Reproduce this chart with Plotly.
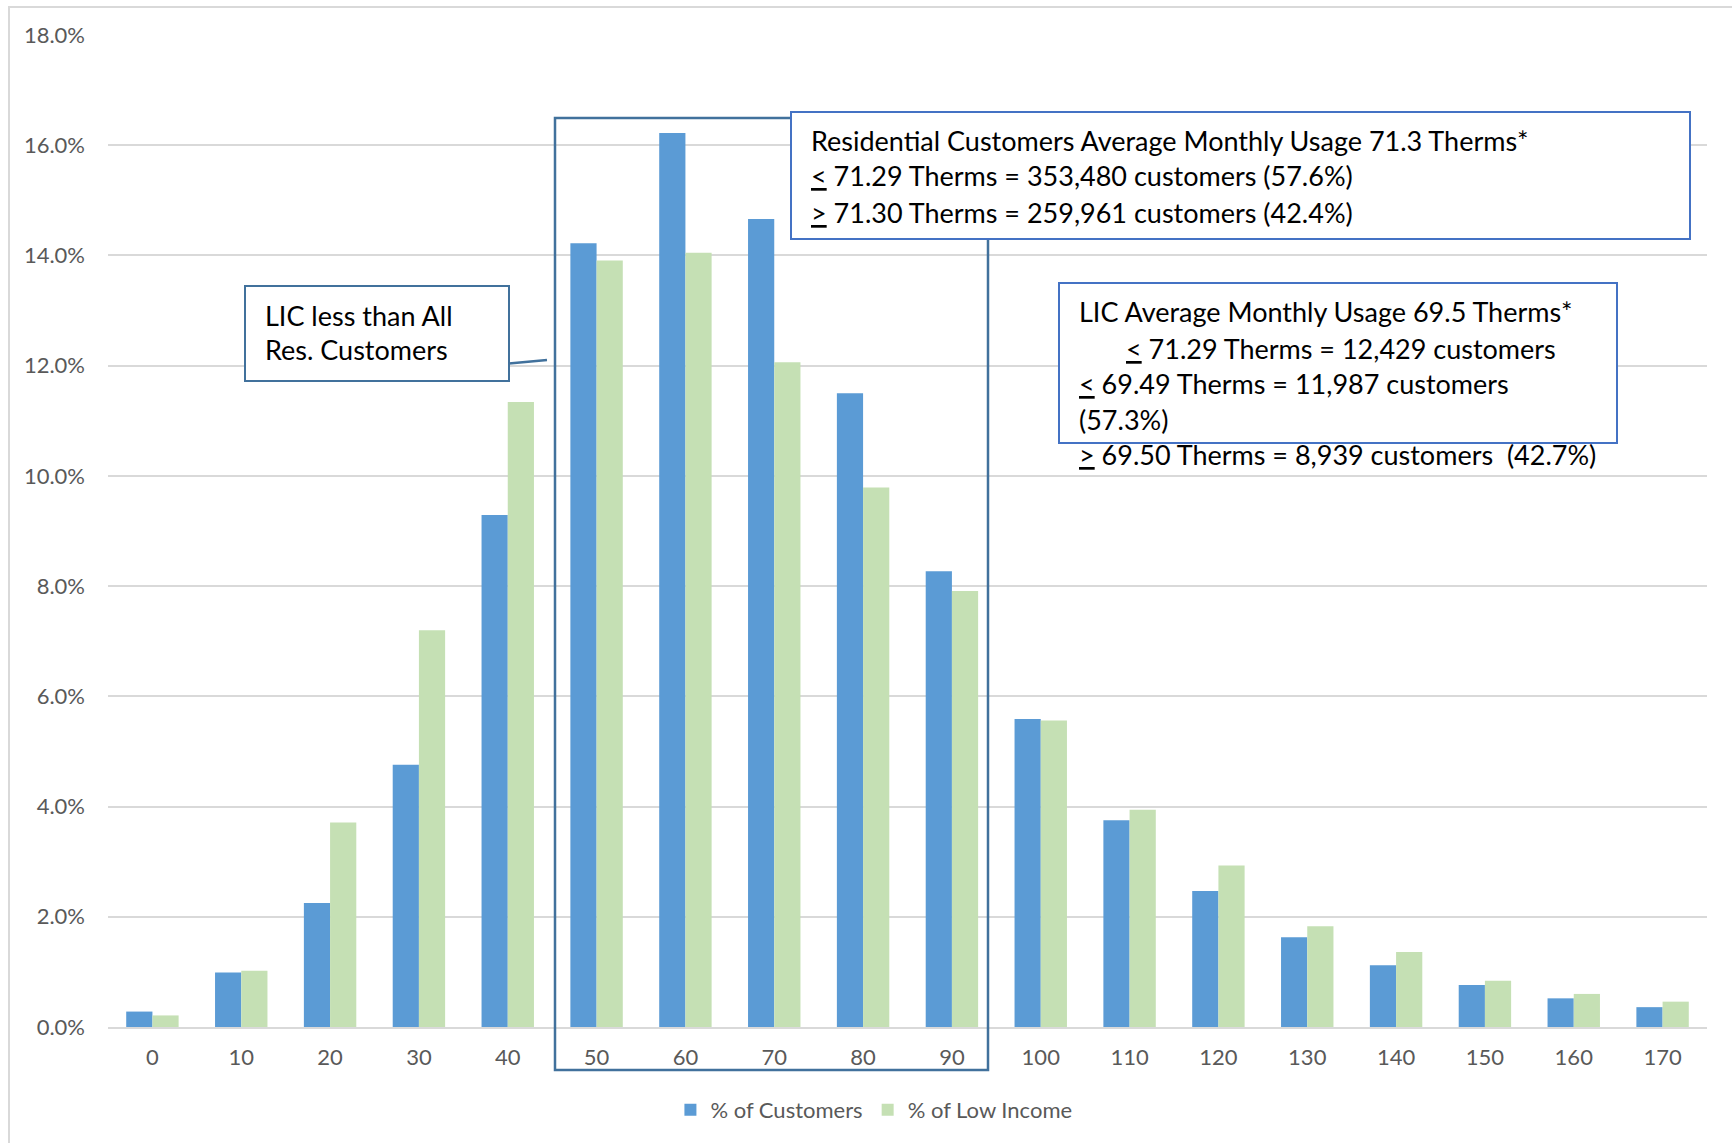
import plotly.graph_objects as go

# ---- data ----
usage_bins = ["0", "10", "20", "30", "40", "50", "60", "70", "80", "90",
              "100", "110", "120", "130", "140", "150", "160", "170"]
pct_customers = [0.28, 0.99, 2.25, 4.76, 9.29, 14.22, 16.22, 14.66, 11.50, 8.27,
                 5.59, 3.75, 2.47, 1.63, 1.12, 0.76, 0.52, 0.36]
pct_low_income = [0.21, 1.02, 3.71, 7.20, 11.34, 13.91, 14.05, 12.06, 9.79, 7.91,
                  5.56, 3.94, 2.93, 1.83, 1.36, 0.84, 0.60, 0.46]
series_names = ["% of Customers", "% of Low Income"]
y_ticks = [0, 2, 4, 6, 8, 10, 12, 14, 16, 18]
y_tick_labels = ["0.0%", "2.0%", "4.0%", "6.0%", "8.0%", "10.0%", "12.0%",
                 "14.0%", "16.0%", "18.0%"]

# ---- layout geometry (pixels) ----
W, H = 1732, 1143
L, R, T, B = 108, 25, 35, 116
PW, PH = W - L - R, H - T - B


def px(x):
    return (x - L) / PW


def py(y):
    return (H - B - y) / PH


FONT = "Lato"
BLUE = "#5B9BD5"
GREEN = "#C5E0B4"
BOX_DARK = "#41719C"
BOX_BLUE = "#4472C4"

fig = go.Figure()
fig.add_trace(go.Bar(x=usage_bins, y=pct_customers, name=series_names[0],
                     marker=dict(color=BLUE, line=dict(width=0))))
fig.add_trace(go.Bar(x=usage_bins, y=pct_low_income, name=series_names[1],
                     marker=dict(color=GREEN, line=dict(width=0))))

shapes = []
# outer chart border (left/top visible)
shapes.append(dict(type="rect", xref="paper", yref="paper",
                   x0=px(9), x1=px(1760), y0=py(7), y1=py(1170),
                   line=dict(color="#D9D9D9", width=2), layer="below"))
# range box
shapes.append(dict(type="rect", xref="paper", yref="paper",
                   x0=px(555), x1=px(988), y0=py(118), y1=py(1070),
                   line=dict(color=BOX_DARK, width=2.5), fillcolor="rgba(0,0,0,0)"))
# box 1 (residential)
shapes.append(dict(type="rect", xref="paper", yref="paper",
                   x0=px(791), x1=px(1690), y0=py(112), y1=py(239),
                   line=dict(color=BOX_BLUE, width=2), fillcolor="white"))
# box 2 (LIC average)
shapes.append(dict(type="rect", xref="paper", yref="paper",
                   x0=px(1059), x1=px(1617), y0=py(283), y1=py(443),
                   line=dict(color=BOX_BLUE, width=2), fillcolor="white"))
# box 3 (LIC less)
shapes.append(dict(type="rect", xref="paper", yref="paper",
                   x0=px(245), x1=px(509), y0=py(286), y1=py(381),
                   line=dict(color=BOX_DARK, width=2), fillcolor="white"))
# connector
shapes.append(dict(type="line", xref="paper", yref="paper",
                   x0=px(509), x1=px(547), y0=py(363.5), y1=py(360),
                   line=dict(color=BOX_DARK, width=2.5)))

ann_font = dict(family=FONT, size=27, color="black")
lines = [
    (811, 140, "Residential Customers Average Monthly Usage 71.3 Therms*"),
    (811, 176, "<u>&lt;</u> 71.29 Therms = 353,480 customers (57.6%)"),
    (811, 212, "<u>&gt;</u> 71.30 Therms = 259,961 customers (42.4%)"),
    (1079, 312, "LIC Average Monthly Usage 69.5 Therms*"),
    (1126, 348, "<u>&lt;</u> 71.29 Therms = 12,429 customers"),
    (1079, 383, "<u>&lt;</u> 69.49 Therms = 11,987 customers"),
    (1079, 419, "(57.3%)"),
    (1079, 455, "<u>&gt;</u> 69.50 Therms = 8,939 customers&nbsp; (42.7%)"),
    (265, 315, "LIC less than All"),
    (265, 350, "Res. Customers"),
]
annotations = []
for x, y, t in lines:
    annotations.append(dict(xref="paper", yref="paper", x=px(x - 2), y=py(y),
                            xanchor="left", yanchor="middle", text=t,
                            showarrow=False, font=ann_font, align="left"))

tick_font = dict(family=FONT, size=22, color="#595959")
fig.update_layout(
    width=W, height=H,
    margin=dict(l=L, r=R, t=T, b=B, autoexpand=False),
    paper_bgcolor="white", plot_bgcolor="white",
    barmode="group", bargap=0.41, bargroupgap=0,
    font=dict(family=FONT, size=22, color="#595959"),
    xaxis=dict(type="category", showgrid=False, showline=True,
               linecolor="#D9D9D9", linewidth=2, ticks="",
               tickfont=tick_font, ticklabelstandoff=10),
    yaxis=dict(range=[0, 18], tickmode="array", tickvals=y_ticks,
               ticktext=y_tick_labels,
               showgrid=True, gridcolor="#D9D9D9", gridwidth=1.5,
               zeroline=False, showline=False, ticks="",
               tickfont=tick_font, ticklabelstandoff=22),
    legend=dict(orientation="h", x=0.479, xanchor="center", y=py(1110),
                yanchor="middle", font=tick_font, traceorder="normal"),
    shapes=shapes,
    annotations=annotations,
)

fig.write_html("out.html",
               config={"displayModeBar": False},
               post_script="document.body.style.margin='0px';"
                           "document.body.style.overflow='hidden';")
